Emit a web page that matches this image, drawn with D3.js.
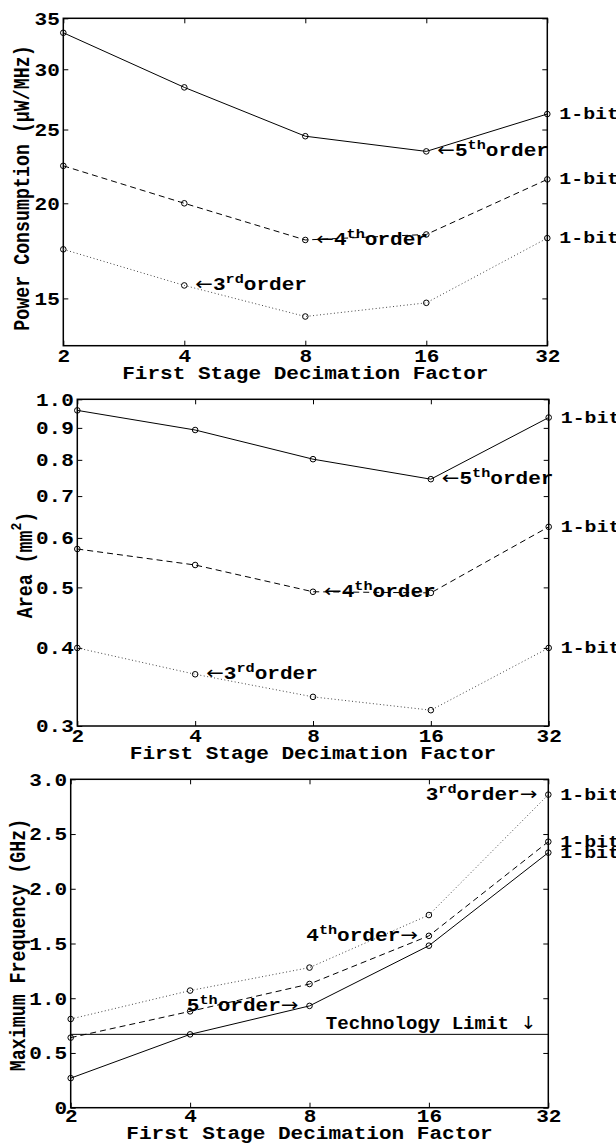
<!DOCTYPE html>
<html>
<head>
<meta charset="utf-8">
<script src="https://cdn.jsdelivr.net/npm/d3@7"></script>
<style>
  body { margin: 0; background: #fff; }
  svg text { font-family: "Liberation Mono", "DejaVu Sans Mono", monospace; font-weight: bold; fill: #000; }
  svg tspan.arrow { font-family: "DejaVu Sans", sans-serif; font-weight: normal; }
</style>
</head>
<body>
<script>
// decimation factors on the x axis (log2)
const factors = [2, 4, 8, 16, 32];

// power consumption (uW/MHz), log y axis
const powerTicks = [15, 20, 25, 30, 35];
const power5 = [33.5, 28.4, 24.5, 23.4, 26.2];
const power4 = [22.4, 20.0, 17.9, 18.2, 21.5];
const power3 = [17.4, 15.6, 14.2, 14.8, 18.0];

// area (mm^2), log y axis
const areaTicks = [0.3, 0.4, 0.5, 0.6, 0.7, 0.8, 0.9, 1.0];
const area5 = [0.96, 0.893, 0.802, 0.745, 0.935];
const area4 = [0.576, 0.543, 0.492, 0.490, 0.625];
const area3 = [0.40, 0.363, 0.334, 0.318, 0.40];

// maximum frequency (GHz), linear y axis
const freqTicks = [0, 0.5, 1.0, 1.5, 2.0, 2.5, 3.0];
const freq5 = [0.27, 0.67, 0.93, 1.48, 2.33];
const freq4 = [0.64, 0.88, 1.13, 1.57, 2.43];
const freq3 = [0.81, 1.07, 1.28, 1.76, 2.86];
const techLimit = 0.67;

const SX = 1.17; // the original text is stretched horizontally

const svg = d3.select("body").append("svg")
  .attr("width", 616)
  .attr("height", 1143);

// series styles: solid = 5th, dashed = 4th, dotted = 3rd order
const styles = [
  { dash: null, color: "#000" },
  { dash: "6,4", color: "#000" },
  { dash: "1,2.5", color: "#444" },
];

// write text made of [string, kind] parts, kind = "sup" | "arrow" | undefined
function richText(g, px, py, parts, anchor, size, sx) {
  const t = g.append("text")
    .attr("transform", `translate(${px},${py}) scale(${sx || SX},1)`)
    .attr("text-anchor", anchor)
    .style("font-size", (size || 18) + "px");
  let shift = 0;
  parts.forEach(([s, kind]) => {
    const want = kind === "sup" ? -7 : 0;
    t.append("tspan")
      .attr("class", kind === "arrow" ? "arrow" : null)
      .attr("dy", want - shift)
      .style("font-size", kind === "sup" ? "13px" : null)
      .text(s);
    shift = want;
  });
  return t;
}

function drawPanel(cfg) {
  const x = d3.scaleLog().base(2).domain([2, 32]).range([cfg.left, cfg.right]);
  const y = (cfg.log ? d3.scaleLog() : d3.scaleLinear())
    .domain(cfg.domain).range([cfg.bottom, cfg.top]);

  const g = svg.append("g");

  // axes with inward ticks on all four sides
  const bottom = g.append("g")
    .attr("transform", `translate(0,${cfg.bottom})`)
    .call(d3.axisBottom(x).tickValues(factors).tickFormat(d3.format("d"))
      .tickSizeInner(-5).tickSizeOuter(0).tickPadding(cfg.xPad));
  const left = g.append("g")
    .attr("transform", `translate(${cfg.left},0)`)
    .call(d3.axisLeft(y).tickValues(cfg.ticks).tickFormat(cfg.fmt)
      .tickSizeInner(-5).tickSizeOuter(0).tickPadding(3));
  g.append("g")
    .attr("transform", `translate(0,${cfg.top})`)
    .call(d3.axisTop(x).tickValues(factors).tickFormat("").tickSizeInner(-5).tickSizeOuter(0));
  g.append("g")
    .attr("transform", `translate(${cfg.right},0)`)
    .call(d3.axisRight(y).tickValues(cfg.ticks).tickFormat("").tickSizeInner(-5).tickSizeOuter(0));

  g.selectAll(".domain").remove();
  g.selectAll(".tick line").attr("stroke", "#000").attr("stroke-width", 1);
  g.selectAll(".tick text")
    .style("font-size", "18px")
    .attr("fill", "#000");
  bottom.selectAll(".tick text").attr("transform", `scale(${SX},1)`);
  left.selectAll(".tick text").attr("transform", `scale(${SX},1)`);

  g.append("rect")
    .attr("x", cfg.left).attr("y", cfg.top)
    .attr("width", cfg.right - cfg.left).attr("height", cfg.bottom - cfg.top)
    .attr("fill", "none").attr("stroke", "#000").attr("stroke-width", 1.5);

  // extra horizontal line (technology limit)
  if (cfg.limit != null) {
    g.append("line")
      .attr("x1", cfg.left).attr("x2", cfg.right)
      .attr("y1", y(cfg.limit)).attr("y2", y(cfg.limit))
      .attr("stroke", "#000").attr("stroke-width", 1);
  }

  const line = d3.line()
    .x((d, i) => x(factors[i]))
    .y((d) => y(d));

  cfg.series.forEach((vals, si) => {
    const st = styles[si];
    g.append("path")
      .datum(vals)
      .attr("d", line)
      .attr("fill", "none")
      .attr("stroke", st.color)
      .attr("stroke-width", 1)
      .attr("stroke-dasharray", st.dash);
    g.selectAll(null)
      .data(vals)
      .enter()
      .append("circle")
      .attr("cx", (d, i) => x(factors[i]))
      .attr("cy", (d) => y(d))
      .attr("r", 2.8)
      .attr("fill", "none")
      .attr("stroke", "#000")
      .attr("stroke-width", 1);

    // "1-bit" tag at the right end
    richText(g, x(32) + 12, y(vals[4]) + 5, [["1-bit"]], "start", 17);
  });

  cfg.notes.forEach((n) => {
    const v = cfg.series[n.s][n.i];
    const px = x(factors[n.i]) + (n.anchor === "start" ? 11 : -11);
    richText(g, px, y(v) + 5, n.parts, n.anchor);
  });

  // axis titles
  richText(g, (cfg.left + cfg.right) / 2, cfg.bottom + cfg.xLabelDy,
    [["First Stage Decimation Factor"]], "middle");

  const yl = g.append("text")
    .attr("transform", `translate(${cfg.yLabelX},${cfg.yLabelY}) rotate(-90) scale(1,${SX})`)
    .attr("text-anchor", "middle")
    .style("font-size", "18.3px");
  cfg.yLabel.forEach(([s, kind], k) => {
    const prevSup = k > 0 && cfg.yLabel[k - 1][1] === "sup";
    yl.append("tspan")
      .attr("dy", kind === "sup" ? -9 : (prevSup ? 9 : 0))
      .style("font-size", kind === "sup" ? "13px" : null)
      .text(s);
  });

  return { g, x, y };
}

const larr = ["\u2190", "arrow"], rarr = ["\u2192", "arrow"];

drawPanel({
  left: 63.3, right: 547.3, top: 18.3, bottom: 345.7,
  log: true, domain: [13, 35], ticks: powerTicks, fmt: d3.format("d"),
  series: [power5, power4, power3], xPad: 4, xLabelDy: 33,
  yLabel: [["Power Consumption (\u03bcW/MHz)"]], yLabelX: 29, yLabelY: 188,
  notes: [
    { s: 0, i: 3, anchor: "start", parts: [larr, ["5"], ["th", "sup"], ["order"]] },
    { s: 1, i: 2, anchor: "start", parts: [larr, ["4"], ["th", "sup"], ["order"]] },
    { s: 2, i: 1, anchor: "start", parts: [larr, ["3"], ["rd", "sup"], ["order"]] },
  ],
});

drawPanel({
  left: 77.3, right: 548.7, top: 399.3, bottom: 726,
  log: true, domain: [0.3, 1.0], ticks: areaTicks, fmt: d3.format(".1f"),
  series: [area5, area4, area3], xPad: 3, xLabelDy: 33,
  yLabel: [["Area (mm"], ["2", "sup"], [")"]], yLabelX: 32, yLabelY: 565,
  notes: [
    { s: 0, i: 3, anchor: "start", parts: [larr, ["5"], ["th", "sup"], ["order"]] },
    { s: 1, i: 2, anchor: "start", parts: [larr, ["4"], ["th", "sup"], ["order"]] },
    { s: 2, i: 1, anchor: "start", parts: [larr, ["3"], ["rd", "sup"], ["order"]] },
  ],
});

const p3 = drawPanel({
  left: 70.7, right: 548.3, top: 779.3, bottom: 1107.7,
  log: false, domain: [0, 3], ticks: freqTicks, fmt: (d) => (d === 0 ? "0" : d3.format(".1f")(d)),
  series: [freq5, freq4, freq3], xPad: 2, xLabelDy: 31, limit: techLimit,
  yLabel: [["Maximum Frequency (GHz)"]], yLabelX: 25, yLabelY: 945,
  notes: [
    { s: 2, i: 4, anchor: "end", parts: [["3"], ["rd", "sup"], ["order"], rarr] },
    { s: 1, i: 3, anchor: "end", parts: [["4"], ["th", "sup"], ["order"], rarr] },
    { s: 0, i: 2, anchor: "end", parts: [["5"], ["th", "sup"], ["order"], rarr] },
  ],
});

richText(p3.g, p3.x(32) - 12, p3.y(techLimit) - 5,
  [["Technology Limit "], ["\u2193", "arrow"]], "end", 18, 1.06);
</script>
</body>
</html>
